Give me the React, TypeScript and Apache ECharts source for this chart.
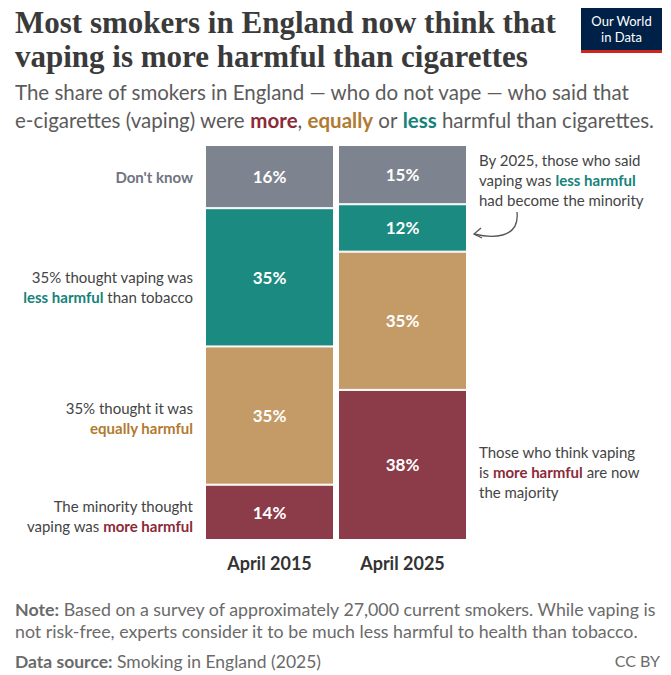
import React, { useEffect, useRef } from "react";
import * as echarts from "echarts";

const categories = ["April 2015", "April 2025"];
const moreHarmful = [14, 38];
const equallyHarmful = [35, 35];
const lessHarmful = [35, 12];
const dontKnow = [16, 15];

const C = { more: "#8c3b48", equal: "#c49b66", less: "#1b8a80", dk: "#7d838f" };
const T = { more: "#8b2a38", equal: "#b07a30", less: "#16827a" };

export default function App() {
  const ref = useRef<HTMLDivElement>(null);
  useEffect(() => {
    const chart = echarts.init(ref.current!, null, { renderer: "svg" });
    const mk = (name: string, data: number[], color: string) => ({
      name, type: "bar", stack: "s", data, barWidth: 129,
      itemStyle: { color, borderColor: "#fff", borderWidth: 1 },
      label: { show: true, position: "inside", formatter: "{c}%", color: "#fff", fontFamily: "Lato", fontSize: 17, fontWeight: "bold" },
    });
    const mkRich = (fs: number, lh: number, base: string) => ({
      g: { fontFamily: "Lato", fontSize: fs, fill: base, lineHeight: lh },
      m: { fontFamily: "Lato", fontSize: fs, fill: T.more, fontWeight: "bold", lineHeight: lh },
      e: { fontFamily: "Lato", fontSize: fs, fill: T.equal, fontWeight: "bold", lineHeight: lh },
      l: { fontFamily: "Lato", fontSize: fs, fill: T.less, fontWeight: "bold", lineHeight: lh },
      d: { fontFamily: "Lato", fontSize: fs, fill: "#6f7480", fontWeight: "bold", lineHeight: lh },
      b: { fontFamily: "Lato", fontSize: fs, fill: base, fontWeight: "bold", lineHeight: lh },
    });
    const rich = mkRich(15, 20, "#444");
    const txt = (x: number, y: number, text: string, align = "right") => ({
      type: "text", x, y, style: { text, rich, align, verticalAlign: "middle" },
    });
    chart.setOption({
      animation: false,
      grid: { left: 203, right: 202, top: 145, bottom: 135 },
      xAxis: {
        type: "category", data: categories,
        axisLine: { show: false }, axisTick: { show: false },
        axisLabel: { fontFamily: "Lato", fontSize: 18, fontWeight: "bold", color: "#333", margin: 14 },
      },
      yAxis: { type: "value", min: 0, max: 100, show: false },
      series: [
        mk("more", moreHarmful, C.more),
        mk("equal", equallyHarmful, C.equal),
        mk("less", lessHarmful, C.less),
        mk("dk", dontKnow, C.dk),
      ],
      graphic: [
        { type: "text", x: 15, y: 5, style: { text: "Most smokers in England now think that\nvaping is more harmful than cigarettes", fontFamily: "Liberation Serif", fontWeight: "bold", fontSize: 31, lineHeight: 34, fill: "#3a3a3a" } },
        { type: "text", x: 15, y: 78, style: { rich: mkRich(20.5, 28, "#5b5b5b"), text: "{g|The share of smokers in England — who do not vape — who said that}\n{g|e-cigarettes (vaping) were }{m|more}{g|, }{e|equally}{g| or }{l|less}{g| harmful than cigarettes.}" } },
        { type: "rect", shape: { x: 581, y: 8, width: 81, height: 45 }, style: { fill: "#002147" } },
        { type: "rect", shape: { x: 581, y: 50, width: 81, height: 3 }, style: { fill: "#ce261e" } },
        { type: "text", x: 621.5, y: 29, style: { text: "Our World\nin Data", fill: "#fff", fontFamily: "Lato", fontSize: 13, lineHeight: 16, align: "center", verticalAlign: "middle" } },
        txt(193, 177, "{d|Don't know}"),
        txt(193, 287, "{g|35% thought vaping was}\n{l|less harmful}{g| than tobacco}"),
        txt(193, 418, "{g|35% thought it was}\n{e|equally harmful}"),
        txt(193, 516, "{g|The minority thought}\n{g|vaping was }{m|more harmful}"),
        txt(479, 180, "{g|By 2025, those who said}\n{g|vaping was }{l|less harmful}\n{g|had become the minority}", "left"),
        txt(479, 472, "{g|Those who think vaping}\n{g|is }{m|more harmful}{g| are now}\n{g|the majority}", "left"),
        { type: "bezierCurve", shape: { x1: 517, y1: 212, x2: 474, y2: 234, cpx1: 520, cpy1: 240, cpx2: 490, cpy2: 238 }, style: { stroke: "#555", lineWidth: 1.3, fill: "none" } },
        { type: "polyline", shape: { points: [[481, 228], [474, 234], [482, 238]] }, style: { stroke: "#555", lineWidth: 1.3, fill: "none" } },
        { type: "text", x: 15, y: 598, style: { rich: mkRich(17.8, 22, "#6a6a6a"), text: "{b|Note:}{g| Based on a survey of approximately 27,000 current smokers. While vaping is}\n{g|not risk-free, experts consider it to be much less harmful to health than tobacco.}" } },
        { type: "text", x: 15, y: 650, style: { rich: mkRich(17.5, 22, "#6a6a6a"), text: "{b|Data source:}{g| Smoking in England (2025)}" } },
        { type: "text", x: 660, y: 652, style: { text: "CC BY", fontFamily: "Lato", fontSize: 16, fill: "#6a6a6a", align: "right" } },
      ],
    });
    return () => chart.dispose();
  }, []);
  return <div ref={ref} style={{ width: 671, height: 675, position: "absolute", left: 0, top: 0 }} />;
}
